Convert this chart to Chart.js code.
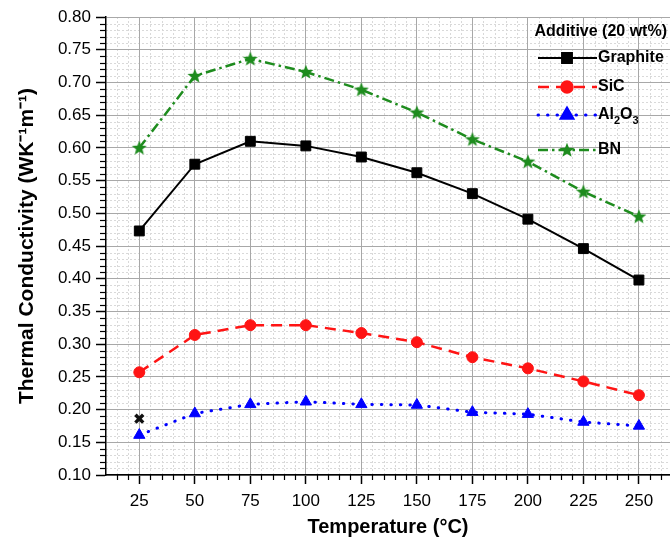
<!DOCTYPE html>
<html>
<head>
<meta charset="utf-8">
<script src="https://cdn.jsdelivr.net/npm/chart.js@4.4.0/dist/chart.umd.min.js"></script>
<style>
html, body { margin: 0; padding: 0; background: #fff; }
</style>
</head>
<body>
<canvas id="tcChart" width="670" height="546"></canvas>
<script>
// valores (conductividad termica vs temperatura)
const temps = [25, 50, 75, 100, 125, 150, 175, 200, 225, 250];
const graphite = [0.473, 0.575, 0.610, 0.603, 0.586, 0.562, 0.530, 0.491, 0.446, 0.398];
const sic = [0.257, 0.314, 0.329, 0.329, 0.317, 0.303, 0.280, 0.263, 0.243, 0.222];
const al2o3 = [0.161, 0.194, 0.208, 0.212, 0.208, 0.207, 0.196, 0.193, 0.181, 0.175];
const bn = [0.600, 0.710, 0.736, 0.716, 0.689, 0.654, 0.613, 0.579, 0.533, 0.495];
// la cruz negra suelta en 25 C
const extraX = [25];
const extraY = [0.186];

const xTicks = [25, 50, 75, 100, 125, 150, 175, 200, 225, 250];
const yTicks = [0.10, 0.15, 0.20, 0.25, 0.30, 0.35, 0.40, 0.45, 0.50, 0.55, 0.60, 0.65, 0.70, 0.75, 0.80];
const legendTitle = 'Additive (20 wt%)';
const nombres = ['Graphite', 'SiC', 'Al2O3', 'BN'];
const colors = ['#000000', '#ff1414', '#0000ff', '#1e8c1e'];

const FONT = '"Liberation Sans", Arial, sans-serif';

// estrella rellena para BN (chart.js no trae una estrella rellena)
const starImg = document.createElement('canvas');
starImg.width = 16; starImg.height = 16;
{
    const c = starImg.getContext('2d');
    c.beginPath();
    for (let i = 0; i < 10; i++) {
        const r = i % 2 === 0 ? 7.8 : 3.3;
        const a = -Math.PI / 2 + i * Math.PI / 5;
        const px = 8 + r * Math.cos(a), py = 8.5 + r * Math.sin(a);
        if (i === 0) c.moveTo(px, py); else c.lineTo(px, py);
    }
    c.closePath();
    c.fillStyle = colors[3];
    c.fill();
}

const pts = (ys) => temps.map((t, i) => ({ x: t, y: ys[i] }));

const data_tc = {
    datasets: [
        {
            label: nombres[0], data: pts(graphite),
            borderColor: colors[0], backgroundColor: colors[0], borderWidth: 2,
            pointStyle: 'rect', pointRadius: 7, pointBorderWidth: 1
        }, {
            label: nombres[1], data: pts(sic),
            borderColor: colors[1], backgroundColor: colors[1], borderWidth: 2.5, borderDash: [11, 7],
            pointStyle: 'circle', pointRadius: 5.5, pointBorderWidth: 1
        }, {
            label: nombres[2], data: pts(al2o3),
            borderColor: colors[2], backgroundColor: colors[2], borderWidth: 3, borderDash: [0.5, 9], borderCapStyle: 'round',
            pointStyle: 'triangle', pointRadius: 6.5, pointBorderWidth: 1
        }, {
            label: nombres[3], data: pts(bn),
            borderColor: colors[3], backgroundColor: colors[3], borderWidth: 2.5, borderDash: [10, 4, 2.5, 4],
            pointStyle: starImg, pointRadius: 8
        }, {
            label: 'x', data: extraX.map((v, i) => ({ x: v, y: extraY[i] })),
            showLine: false, borderColor: '#111', backgroundColor: '#111',
            pointStyle: 'crossRot', pointRadius: 5.5, pointBorderWidth: 3.5
        }
    ]
};

// rejilla menor punteada + ticks menores
const minorPlugin = {
    id: 'minorGrid',
    beforeDraw(chart) {
        const { ctx, chartArea: a, scales: { x, y } } = chart;
        ctx.save();
        ctx.strokeStyle = '#d9d9d9';
        ctx.lineWidth = 1;
        ctx.setLineDash([2, 2]);
        for (let v = 15; v <= 264; v += 5) {
            if (v % 25 === 0) continue;
            const px = Math.round(x.getPixelForValue(v)) + 0.5;
            ctx.beginPath(); ctx.moveTo(px, a.top); ctx.lineTo(px, a.bottom); ctx.stroke();
        }
        for (let k = 10; k <= 80; k++) {
            if (k % 5 === 0) continue;
            const py = Math.round(y.getPixelForValue(k / 100)) + 0.5;
            ctx.beginPath(); ctx.moveTo(a.left, py); ctx.lineTo(a.right, py); ctx.stroke();
        }
        ctx.restore();
    },
    afterDraw(chart) {
        const { ctx, chartArea: a, scales: { x, y } } = chart;
        ctx.save();
        ctx.strokeStyle = '#000';
        ctx.lineWidth = 1.2;
        for (let v = 15; v <= 264; v += 5) {
            if (v % 25 === 0) continue;
            const px = Math.round(x.getPixelForValue(v)) + 0.5;
            ctx.beginPath(); ctx.moveTo(px, a.bottom); ctx.lineTo(px, a.bottom + 5); ctx.stroke();
        }
        for (let k = 10; k <= 80; k++) {
            if (k % 5 === 0) continue;
            const py = Math.round(y.getPixelForValue(k / 100)) + 0.5;
            ctx.beginPath(); ctx.moveTo(a.left - 6, py); ctx.lineTo(a.left, py); ctx.stroke();
        }
        ctx.restore();
    }
};

// leyenda a mano, por el subindice de Al2O3
const legendPlugin = {
    id: 'addLegend',
    afterDraw(chart) {
        const ctx = chart.ctx;
        const rows = [58, 87, 115, 150];
        ctx.save();
        ctx.fillStyle = '#000';
        ctx.textBaseline = 'middle';
        ctx.textAlign = 'right';
        ctx.font = 'bold 16px ' + FONT;
        ctx.fillText(legendTitle, 667, 32);
        ctx.textAlign = 'left';
        chart.data.datasets.slice(0, 4).forEach((ds, i) => {
            const yy = rows[i];
            ctx.strokeStyle = ds.borderColor;
            ctx.fillStyle = ds.backgroundColor;
            ctx.lineWidth = ds.borderWidth;
            ctx.lineCap = ds.borderCapStyle || 'butt';
            ctx.setLineDash(ds.borderDash || []);
            ctx.beginPath(); ctx.moveTo(538, yy); ctx.lineTo(597, yy); ctx.stroke();
            ctx.setLineDash([]);
            ctx.lineCap = 'butt';
            Chart.helpers.drawPoint(ctx, {
                pointStyle: ds.pointStyle, radius: ds.pointRadius,
                borderWidth: ds.pointBorderWidth || 0, rotation: 0
            }, 567, yy);
            ctx.fillStyle = '#000';
            ctx.font = 'bold 16px ' + FONT;
            if (nombres[i] === 'Al2O3') {
                let xx = 598;
                const part = (t, sub) => {
                    ctx.font = (sub ? 'bold 11px ' : 'bold 16px ') + FONT;
                    ctx.fillText(t, xx, sub ? yy + 6 : yy);
                    xx += ctx.measureText(t).width;
                };
                part('Al', false); part('2', true); part('O', false); part('3', true);
            } else {
                ctx.fillText(nombres[i], 598, yy);
            }
        });
        ctx.restore();
    }
};

const tcConfig = {
    type: 'line',
    data: data_tc,
    plugins: [minorPlugin, legendPlugin],
    options: {
        responsive: false,
        animation: false,
        layout: { autoPadding: false, padding: { top: 17, right: 0, left: 0, bottom: 0 } },
        plugins: { legend: { display: false }, tooltip: { enabled: false } },
        scales: {
            x: {
                type: 'linear',
                min: 10, max: 264,
                afterBuildTicks: s => { s.ticks = xTicks.map(v => ({ value: v })); },
                afterFit: s => { s.height = 71; },
                grid: { color: '#a8a8a8', lineWidth: 1, tickLength: 9, tickColor: '#000', tickWidth: 1.5 },
                border: { color: '#000', width: 1.5 },
                ticks: { color: '#000', font: { family: FONT, size: 17 }, padding: 7, maxRotation: 0 },
                title: {
                    display: true, text: 'Temperature (°C)', color: '#000',
                    font: { family: FONT, size: 20, weight: 'bold' }, padding: { top: 0, bottom: 7 }
                }
            },
            y: {
                min: 0.10, max: 0.80,
                afterBuildTicks: s => { s.ticks = yTicks.map(v => ({ value: v })); },
                afterFit: s => { s.width = 106; },
                grid: { color: '#a8a8a8', lineWidth: 1, tickLength: 10, tickColor: '#000', tickWidth: 1.5 },
                border: { color: '#000', width: 1.5 },
                ticks: { color: '#000', font: { family: FONT, size: 17 }, padding: 5, callback: v => v.toFixed(2) },
                title: {
                    display: true, text: 'Thermal Conductivity (WK\u207B\u00B9m\u207B\u00B9)', color: '#000',
                    font: { family: FONT, size: 21, weight: 'bold' }, padding: { top: 15, bottom: 0 }
                }
            }
        }
    }
};

const tcChart = new Chart(document.getElementById('tcChart'), tcConfig);
</script>
</body>
</html>
